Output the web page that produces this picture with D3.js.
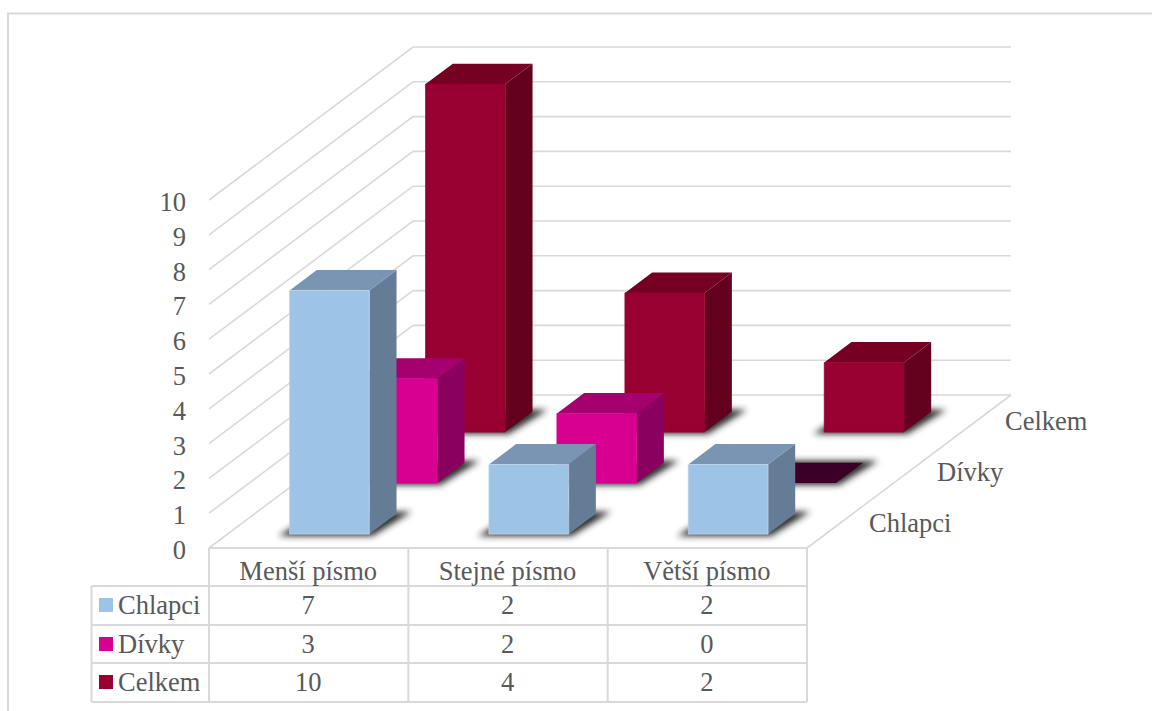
<!DOCTYPE html>
<html><head><meta charset="utf-8">
<script src="https://cdn.jsdelivr.net/npm/d3@7"></script>
<style>html,body{margin:0;padding:0;background:#fff;overflow:hidden}svg{display:block}
text{font-family:"Liberation Serif","Times New Roman",serif;fill:#595959;font-size:26.5px}</style>
</head><body><svg id="c" width="1152" height="711"></svg>
<script>
const categories = ["Menší písmo","Stejné písmo","Větší písmo"];
const seriesNames = ["Chlapci","Dívky","Celkem"];
const chlapci = [7,2,2];
const divky = [3,2,0];
const celkem = [10,4,2];
const yTicks = [0,1,2,3,4,5,6,7,8,9,10];
const seriesValues = [chlapci,divky,celkem];
const frontColors = ["#9DC3E6","#D80090","#970030"];
const topColors = ["#7A95B3","#A5006E","#750022"];
const sideColors = ["#657C96","#8A005E","#62001D"];
const edgeColors = ["#BCD5EE","#D80090","#970030"];
const zeroColor = "#3C0028";
const gridColor = "#D9D9D9";

const svg = d3.select("#c");
const defs = svg.append("defs");
defs.append("filter").attr("id","sh").attr("x","-30%").attr("y","-60%").attr("width","160%").attr("height","220%")
  .append("feGaussianBlur").attr("stdDeviation",3);

// plot geometry
const X0=209, X1=807, Y0=548, DX=204, DY=153;
const x = d3.scaleBand().domain(categories).range([X0,X1]).paddingInner(0.6).paddingOuter(0.3);
const z = d3.scaleBand().domain(seriesNames).range([0,1]).paddingInner(0.6).paddingOuter(0.3);
const y = d3.scaleLinear().domain([0,10]).range([0,348]);
const P=(px,d,v)=>[px+DX*d, Y0-DY*d-y(v)];
const B=(px,d,v)=>{const p=P(px,d,v);return [p[0]+0.4,p[1]+1.4];};
const poly=pts=>pts.map(p=>p.join(",")).join(" ");

// frame
const g = svg.append("g");
g.append("path").attr("d","M8,711V13.5H1152").attr("fill","none").attr("stroke","#D9D9D9").attr("stroke-width",2);

// walls
const grid=g.append("g").attr("fill","none").attr("stroke",gridColor).attr("stroke-width",1.6);
yTicks.forEach(v=>{
  grid.append("polyline").attr("points",poly([P(X0,0,v),P(X0,1,v),P(X1,1,v)]));
});
grid.append("line").attr("x1",P(X1,0,0)[0]).attr("y1",P(X1,0,0)[1]).attr("x2",P(X1,1,0)[0]).attr("y2",P(X1,1,0)[1]);

// y axis labels
g.append("g").selectAll("text").data(yTicks).join("text")
  .attr("x",186).attr("y",v=>Y0-y(v)+11).attr("text-anchor","end").text(v=>v);

// series labels on depth axis
seriesNames.forEach((s,i)=>{
  const d=z(s)+z.bandwidth()/2;
  const p=P(X1,d,0);
  g.append("text").attr("x",p[0]+[28,28,28][i]).attr("y",p[1]+[9,9,9][i]).text(s);
});

// bars, back to front
for(let si=2;si>=0;si--){
  const s=seriesNames[si], d0=z(s), d1=d0+z.bandwidth();
  categories.forEach((c,ci)=>{
    const v=seriesValues[si][ci], l=x(c), r=l+x.bandwidth();
    const b=g.append("g");
    // soft shadow on the floor
    b.append("polygon").attr("filter","url(#sh)").attr("fill","#222").attr("fill-opacity",.95)
      .attr("points",poly([[B(l,d0,0)[0]-11,B(l,d0,0)[1]+2],[B(r,d0,0)[0]+3,B(r,d0,0)[1]+2],[B(r,d1,0)[0]+15,B(r,d1,0)[1]-2],[B(l,d1,0)[0],B(l,d1,0)[1]-2]]));
    if(v===0){
      b.append("polygon").attr("fill",zeroColor).attr("points",poly([B(l,d0,0),B(r,d0,0),B(r,d1,0),B(l,d1,0)]));
      return;
    }
    b.append("polygon").attr("fill",sideColors[si]).attr("points",poly([B(r,d0,0),B(r,d1,0),B(r,d1,v),B(r,d0,v)]));
    b.append("polygon").attr("fill",topColors[si]).attr("points",poly([B(l,d0,v),B(r,d0,v),B(r,d1,v),B(l,d1,v)]));
    b.append("polygon").attr("fill",frontColors[si]).attr("stroke",edgeColors[si]).attr("stroke-width",.8)
      .attr("points",poly([B(l,d0,0),B(r,d0,0),B(r,d0,v),B(l,d0,v)]));
  });
}

// data table
const rowY=[548,586,625,663,702], keyX=91.5;
const colX=d3.range(categories.length+1).map(i=>X0+i*(X1-X0)/categories.length);
const t=g.append("g").attr("stroke",gridColor).attr("stroke-width",2).attr("fill","none");
t.append("line").attr("x1",X0).attr("x2",X1).attr("y1",rowY[0]).attr("y2",rowY[0]);
rowY.slice(1).forEach(ry=>t.append("line").attr("x1",keyX).attr("x2",X1).attr("y1",ry).attr("y2",ry));
colX.forEach(cx=>t.append("line").attr("x1",cx).attr("x2",cx).attr("y1",rowY[0]).attr("y2",rowY[4]));
t.append("line").attr("x1",keyX).attr("x2",keyX).attr("y1",rowY[1]).attr("y2",rowY[4]);
const cx=i=>colX[i]+(colX[i+1]-colX[i])/2-0.5;
categories.forEach((c,i)=>g.append("text").attr("x",cx(i)).attr("y",580).attr("text-anchor","middle").text(c));
seriesNames.forEach((s,si)=>{
  const by=rowY[si+1]+28;
  g.append("rect").attr("x",99).attr("y",rowY[si+1]+12).attr("width",14).attr("height",14).attr("fill",frontColors[si]);
  g.append("text").attr("x",118).attr("y",by).text(s);
  categories.forEach((c,i)=>g.append("text").attr("x",cx(i)).attr("y",by).attr("text-anchor","middle").text(seriesValues[si][i]));
});
</script></body></html>
